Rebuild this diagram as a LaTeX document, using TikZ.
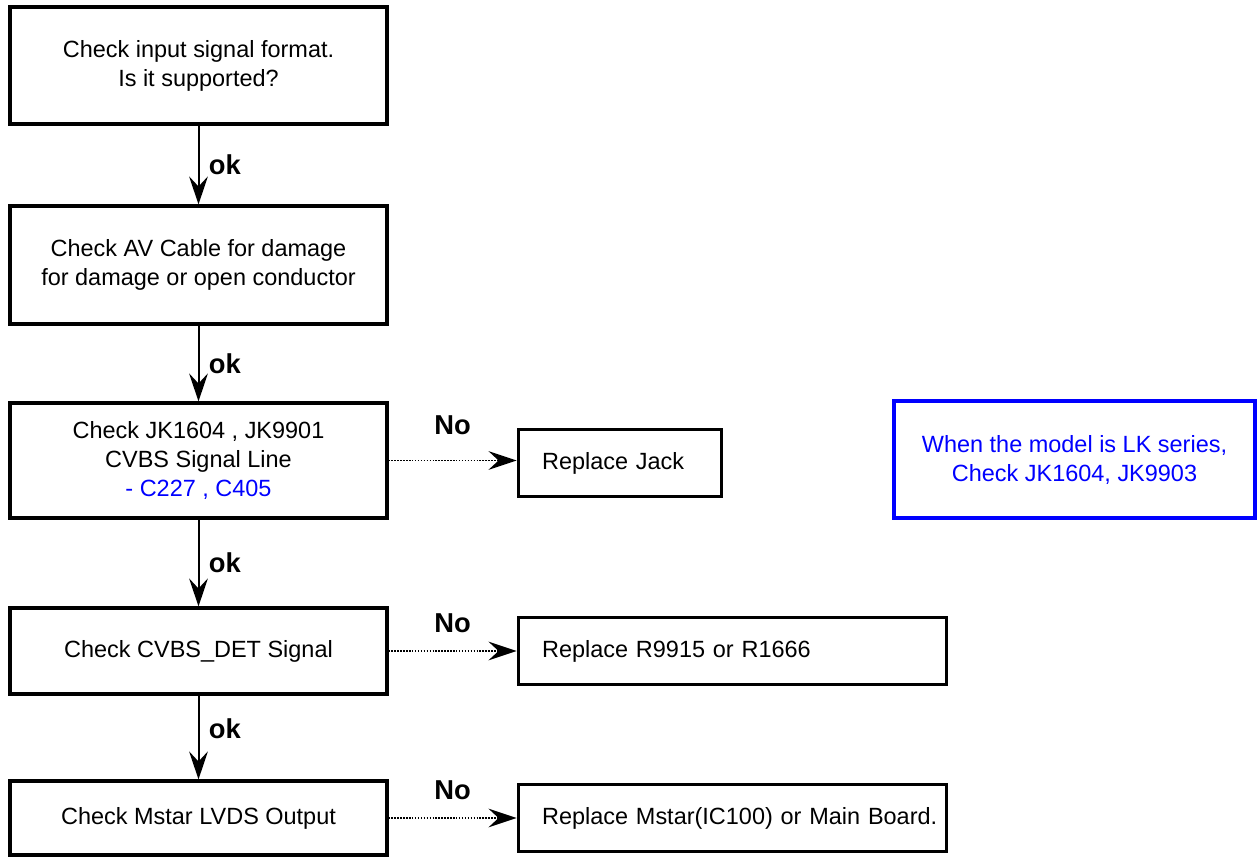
\documentclass[tikz,border=0pt]{standalone}
\usepackage{fontspec}
\setmainfont{Liberation Sans}
\usetikzlibrary{arrows.meta, positioning}

\begin{document}
\begin{tikzpicture}[
    x=0.75pt, y=-0.75pt,
    chk/.style   = {draw=black, line width=2.3pt, minimum width=282.75pt, inner sep=0pt,
                    align=center, font=\fontsize{17.6pt}{21.75pt}\selectfont},
    repl/.style  = {draw=black, line width=2.3pt, minimum height=50.25pt, inner xsep=18pt,
                    inner ysep=0pt, align=left, font=\fontsize{17.6pt}{21.75pt}\selectfont},
    note/.style  = {draw=blue, line width=2.5pt, text=blue, minimum width=270.75pt,
                    minimum height=87.75pt, align=center, font=\fontsize{17.6pt}{21.75pt}\selectfont},
    lbl/.style   = {font=\fontsize{20.5pt}{24pt}\selectfont\bfseries},
    arr/.style   = {-{Stealth[length=21pt, width=14pt, inset=7.5pt]}, line width=1.5pt},
    noarr/.style = {arr, line width=1.3pt, dash pattern=on 1.1pt off 1.1pt},
]

\useasboundingbox (0,0) rectangle (1257,857);

%% ---- Column position (x-coord) ----
\def\xL{198.5}   % check steps

%% ---- Check steps ----
\node[chk, minimum height=87.75pt] (chk1) at (\xL, 65.5)
    {Check input signal format.\\Is it supported?};
\node[chk, minimum height=88.5pt]  (chk2) at (\xL, 265)
    {Check AV Cable for damage\\for damage or open conductor};
\node[chk, minimum height=86.25pt] (chk3) at (\xL, 460.5)
    {Check JK1604 , JK9901\\CVBS Signal Line\\\textcolor{blue}{- C227 , C405}};
\node[chk, minimum height=64.5pt]  (chk4) at (\xL, 651)
    {Check CVBS\_DET Signal};
\node[chk, minimum height=55.5pt]  (chk5) at (\xL, 818)
    {Check Mstar LVDS Output};

%% ---- Repair actions ----
\node[repl, text width=116.25pt, right=96pt of chk3, yshift=-2pt] (rep1) {Replace Jack};
\node[repl, text width=285pt,    right=96pt of chk4] (rep2) {Replace R9915 or R1666};
\node[repl, text width=285pt,    right=96pt of chk5] (rep3) {\mbox{Replace Mstar(IC100) or Main Board.}};

%% ---- Model note ----
\node[note] (lkNote) at (1074.5, 459.5)
    {When the model is LK series,\\Check JK1604, JK9903};

%% ---- ok flow ----
\draw[arr] (chk1) -- (chk2) node[lbl, midway, right=3.7pt] (ok1) {ok};
\draw[arr] (chk2) -- (chk3) node[lbl, midway, right=3.7pt] (ok2) {ok};
\draw[arr] (chk3) -- (chk4) node[lbl, midway, right=3.7pt] (ok3) {ok};
\draw[arr] (chk4) -- (chk5) node[lbl, pos=0.4, right=3.7pt] (ok4) {ok};

%% ---- No branches ----
\draw[noarr] (chk3) -- (chk3 -| rep1.west) node[lbl, midway, above=15pt] (no1) {No};
\draw[noarr] (chk4) -- (rep2) node[lbl, midway, above=10pt] (no2) {No};
\draw[noarr] (chk5) -- (rep3) node[lbl, midway, above=10pt] (no3) {No};

\end{tikzpicture}
\end{document}
